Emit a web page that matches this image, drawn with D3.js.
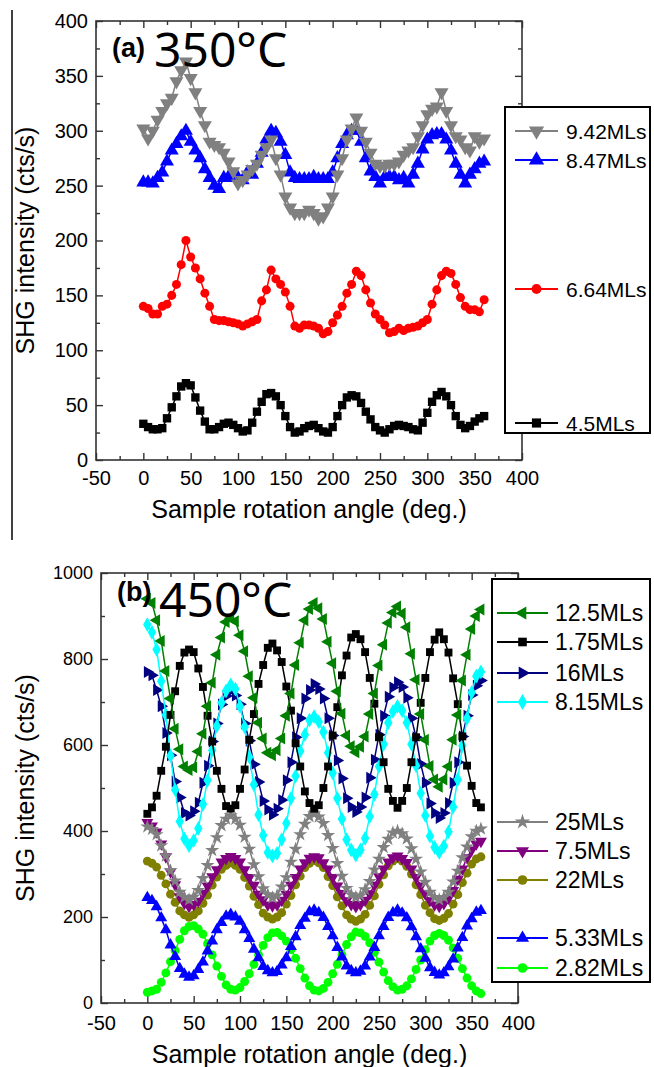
<!DOCTYPE html>
<html lang="en">
<head>
<meta charset="UTF-8">
<title>SHG intensity vs sample rotation angle</title>
<script src="https://d3js.org/d3.v7.min.js"></script>
<style>
  body { margin: 0; background: #fff; }
  svg text { font-family: "Liberation Sans", Arial, sans-serif; fill: #000; }
  .frame { fill: none; stroke: #333; stroke-width: 1.6; }
  .axis path { display: none; }
  .axis line { stroke: #333; stroke-width: 1.4; }
  .axis text { font-size: 20px; font-family: "Liberation Sans", Arial, sans-serif; }
  .line { fill: none; stroke-width: 1.5; }
  .legend-box { fill: #fff; stroke: #000; stroke-width: 2; }
  .title-temp { font-family: "Noto Sans", sans-serif !important; }
</style>
</head>
<body>
<svg id="fig" width="654" height="1067"></svg>
<script>
// sample rotation angle, 5 deg steps
const angles = [0,5,10,15,20,25,30,35,40,45,50,55,60,65,70,75,80,85,90,95,100,105,110,115,120,
  125,130,135,140,145,150,155,160,165,170,175,180,185,190,195,200,205,210,215,220,225,230,235,
  240,245,250,255,260,265,270,275,280,285,290,295,300,305,310,315,320,325,330,335,340,345,350,355,360];

const xTicks = [-50,0,50,100,150,200,250,300,350,400];
const xMinor = [-25,25,75,125,175,225,275,325,375];
const yTicksA = [0,50,100,150,200,250,300,350,400];
const yMinorA = [25,75,125,175,225,275,325,375];
const yTicksB = [0,200,400,600,800,1000];
const yMinorB = [100,300,500,700,900];

// panel (a) 350°C
const a_4_5 = [33,30,28,28,29,38,48,58,67,70,68,57,45,35,28,28,30,33,34,32,29,26,27,34,44,53,60,61,58,50,
  40,30,25,26,29,31,32,29,26,25,30,40,50,57,59,58,52,44,37,30,27,25,28,31,32,31,30,28,27,34,
  43,53,59,62,58,50,40,32,29,31,35,38,40];
const a_6_64 = [140,138,133,133,140,142,150,160,178,200,185,175,165,152,140,128,127,127,126,125,124,122,124,126,128,
  145,155,173,165,160,153,140,122,120,123,123,122,120,115,117,125,132,140,152,160,172,168,155,143,133,
  128,123,116,117,120,118,120,121,122,125,128,142,155,168,172,170,160,148,140,137,137,135,146];
const a_8_47 = [253,253,252,257,262,272,282,288,295,300,290,282,275,265,257,250,247,257,258,257,257,255,262,260,270,
  280,292,300,298,290,278,262,257,256,256,256,258,256,256,256,262,275,288,296,300,300,290,275,263,258,
  252,258,258,258,255,257,252,260,270,283,292,296,297,297,292,282,270,260,252,260,265,270,272];
const a_9_42 = [302,293,300,310,318,325,330,345,355,363,348,335,318,305,290,287,285,280,272,263,252,255,260,265,270,
  278,285,292,275,260,240,230,225,225,225,228,225,220,222,230,240,260,275,292,302,312,300,290,280,270,
  268,268,270,270,272,278,282,285,295,305,315,320,322,335,318,305,295,292,285,282,295,290,293];

// panel (b) 450°C
const b_12_5 = [940,930,890,842,772,708,638,590,550,542,548,585,626,690,745,810,850,886,895,888,855,818,760,710,652,
  615,582,576,588,615,668,720,786,838,890,916,930,918,893,840,790,725,673,622,597,583,596,620,672,720,
  785,833,884,908,922,906,874,812,752,672,612,551,520,503,520,550,612,670,750,810,870,900,915];
const b_1_75 = [440,455,482,540,596,670,725,784,815,822,816,778,735,668,608,540,498,458,452,460,498,543,612,672,742,
  786,826,836,820,793,736,680,604,550,492,465,452,460,500,550,622,688,762,808,850,858,846,816,756,696,
  618,560,498,470,454,470,500,560,618,698,756,816,845,862,846,815,755,695,620,552,505,465,455];
const b_16 = [770,762,728,690,628,576,515,478,442,436,446,466,512,552,608,650,694,714,726,715,695,650,610,555,514,
  470,450,438,452,472,518,560,618,662,708,728,742,730,708,662,622,564,522,476,456,444,456,478,524,566,
  624,668,712,734,746,735,710,662,618,556,512,464,442,430,442,465,512,560,620,668,716,738,750];
const b_8_15 = [880,862,822,748,670,575,496,422,382,366,378,406,462,518,588,644,698,726,740,730,690,642,572,508,438,
  390,350,342,348,380,418,476,528,586,624,658,666,654,630,582,535,476,428,380,356,344,356,383,434,485,
  550,602,652,678,690,680,652,602,552,488,436,388,362,350,365,398,456,520,598,662,722,760,770];
const b_25 = [410,404,392,366,342,308,284,258,246,240,247,262,290,320,355,385,413,428,436,428,414,386,358,322,294,
  266,252,245,250,270,292,328,358,392,416,434,440,433,418,390,360,325,295,267,252,246,250,264,283,310,
  335,362,381,396,400,394,382,359,335,305,281,258,246,240,246,258,282,307,338,363,387,400,405];
const b_7_5 = [420,412,398,370,340,305,275,247,232,224,229,237,255,272,294,310,328,336,341,336,328,310,292,274,253,
  240,228,226,228,239,253,274,292,312,326,337,340,338,326,312,292,272,255,238,229,224,229,239,254,274,
  294,312,328,338,342,336,327,312,292,272,254,238,228,225,231,244,262,288,312,338,356,370,376];
const b_22 = [330,325,316,297,277,253,234,214,205,199,205,214,232,251,274,293,311,320,326,320,311,292,272,248,229,
  209,200,195,200,210,230,250,275,295,315,325,331,326,315,294,273,247,226,205,195,190,195,206,227,249,
  276,298,319,330,336,330,318,300,275,252,227,210,196,192,197,208,230,252,280,302,323,335,340];
const b_5_33 = [245,238,224,198,170,135,108,80,67,60,63,78,95,121,144,170,187,202,206,200,190,170,150,125,105,
  85,75,70,73,88,105,131,154,180,197,212,216,210,199,178,156,129,107,86,75,70,74,86,107,129,
  156,178,199,210,216,209,198,177,154,126,104,82,71,65,70,84,102,128,152,179,196,211,215];
const b_2_82 = [25,28,32,48,70,96,122,148,168,178,180,172,160,138,112,86,62,42,32,30,36,50,68,90,112,
  134,152,163,164,156,144,124,104,80,58,40,30,28,34,48,68,90,112,136,154,165,163,155,140,118,
  95,72,52,38,30,32,40,56,78,100,124,144,157,162,157,146,128,104,80,58,40,28,22];

const svg = d3.select("#fig");

const sym = {
  square:   {type: d3.symbolSquare,   rot: 0},
  circle:   {type: d3.symbolCircle,   rot: 0},
  triUp:    {type: d3.symbolTriangle, rot: 0},
  triDown:  {type: d3.symbolTriangle, rot: 180},
  triLeft:  {type: d3.symbolTriangle, rot: -90},
  triRight: {type: d3.symbolTriangle, rot: 90},
  diamond:  {type: d3.symbolDiamond,  rot: 0},
  star:     {type: d3.symbolStar,     rot: 0}
};

const plain = d => String(d); // keeps the ascii hyphen in "-50"

function drawPanel(p) {
  const x = d3.scaleLinear().domain([-50, 400]).range([p.left, p.right]);
  const y = d3.scaleLinear().domain([0, p.ymax]).range([p.bottom, p.top]);
  const g = svg.append("g");

  // ticks, all pointing inward
  g.append("g").attr("class", "axis").attr("transform", `translate(0,${p.bottom})`)
    .call(d3.axisBottom(x).tickValues(xTicks).tickSize(-7).tickPadding(p.xPad).tickFormat(plain));
  g.append("g").attr("class", "axis").attr("transform", `translate(0,${p.bottom})`)
    .call(d3.axisBottom(x).tickValues(xMinor).tickSize(-4).tickFormat(""));
  g.append("g").attr("class", "axis").attr("transform", `translate(0,${p.top})`)
    .call(d3.axisTop(x).tickValues(xTicks).tickSize(-7).tickFormat(""));
  g.append("g").attr("class", "axis").attr("transform", `translate(0,${p.top})`)
    .call(d3.axisTop(x).tickValues(xMinor).tickSize(-4).tickFormat(""));
  g.append("g").attr("class", "axis").attr("transform", `translate(${p.left},0)`)
    .call(d3.axisLeft(y).tickValues(p.yTicks).tickSize(-7).tickPadding(8).tickFormat(plain))
    .selectAll("text").style("font-size", p.yFont + "px");
  g.append("g").attr("class", "axis").attr("transform", `translate(${p.left},0)`)
    .call(d3.axisLeft(y).tickValues(p.yMinor).tickSize(-4).tickFormat(""));
  g.append("g").attr("class", "axis").attr("transform", `translate(${p.right},0)`)
    .call(d3.axisRight(y).tickValues(p.yTicks).tickSize(-7).tickFormat(""));
  g.append("g").attr("class", "axis").attr("transform", `translate(${p.right},0)`)
    .call(d3.axisRight(y).tickValues(p.yMinor).tickSize(-4).tickFormat(""));

  g.append("rect").attr("class", "frame")
    .attr("x", p.left).attr("y", p.top)
    .attr("width", p.right - p.left).attr("height", p.bottom - p.top);

  // axis titles
  g.append("text").attr("x", (p.left + p.right) / 2).attr("y", p.xTitleY)
    .attr("text-anchor", "middle").style("font-size", "25px")
    .text("Sample rotation angle (deg.)");
  g.append("text")
    .attr("transform", `translate(34,${(p.top + p.bottom) / 2}) rotate(-90)`)
    .attr("text-anchor", "middle").style("font-size", "25px")
    .text("SHG intensity (cts/s)");

  // data
  const line = d3.line().x((d, i) => x(angles[i])).y(d => y(d));
  p.series.forEach(s => {
    const sg = g.append("g");
    sg.append("path").datum(s.values).attr("class", "line")
      .attr("stroke", s.color).attr("d", line);
    sg.selectAll("path.pt").data(s.values).join("path").attr("class", "pt")
      .attr("d", d3.symbol().type(sym[s.marker].type).size(s.size || p.msize))
      .attr("fill", s.color)
      .attr("transform", (d, i) => `translate(${x(angles[i])},${y(d)}) rotate(${sym[s.marker].rot})`);
  });

  // panel label
  g.append("text").attr("x", p.left + 16).attr("y", p.labelY)
    .style("font-size", "27px").style("font-weight", "bold").text(p.tag);
  g.append("text").attr("class", "title-temp").attr("x", p.left + 58).attr("y", p.tempY)
    .style("font-size", "48px").text(p.temp);

  // legend
  const lg = svg.append("g");
  lg.append("rect").attr("class", "legend-box")
    .attr("x", p.legend.x0).attr("y", p.legend.y0)
    .attr("width", p.legend.x1 - p.legend.x0).attr("height", p.legend.y1 - p.legend.y0);
  p.series.forEach(s => {
    const e = lg.append("g").attr("transform", `translate(0,${s.ly})`);
    e.append("line").attr("x1", p.legend.l0).attr("x2", p.legend.l1)
      .attr("stroke", s.color).attr("stroke-width", 1.8);
    e.append("path")
      .attr("d", d3.symbol().type(sym[s.marker].type).size((s.size || p.msize) * 1.2))
      .attr("fill", s.color)
      .attr("transform", `translate(${(p.legend.l0 + p.legend.l1) / 2},0) rotate(${sym[s.marker].rot})`);
    e.append("text").attr("x", p.legend.tx).attr("y", p.legend.fs * 0.36)
      .style("font-size", p.legend.fs + "px").text(s.name);
  });
}

// left border line of the first figure
svg.append("line").attr("x1", 12).attr("x2", 12).attr("y1", 10).attr("y2", 540)
  .attr("stroke", "#000").attr("stroke-width", 1.5);

drawPanel({
  left: 96, right: 522, top: 21, bottom: 460, ymax: 400,
  yTicks: yTicksA, yMinor: yMinorA, yFont: 20, xPad: 11, xTitleY: 518, msize: 85,
  tag: "(a)", temp: "350°C", labelY: 57, tempY: 67,
  legend: {x0: 505, x1: 650, y0: 107, y1: 433, l0: 515, l1: 558, tx: 566, fs: 21},
  series: [
    {name: "4.5MLs",  values: a_4_5,  color: "#000000", marker: "square",  ly: 423, size: 70},
    {name: "6.64MLs", values: a_6_64, color: "#ff0000", marker: "circle",  ly: 289, size: 64},
    {name: "8.47MLs", values: a_8_47, color: "#0000ff", marker: "triUp",   ly: 160},
    {name: "9.42MLs", values: a_9_42, color: "#808080", marker: "triDown", ly: 131}
  ]
});

drawPanel({
  left: 101, right: 518, top: 573, bottom: 1003, ymax: 1000,
  yTicks: yTicksB, yMinor: yMinorB, yFont: 18, xPad: 13, xTitleY: 1063, msize: 62,
  tag: "(b)", temp: "450°C", labelY: 601, tempY: 617,
  legend: {x0: 492, x1: 650, y0: 579, y1: 982, l0: 497, l1: 548, tx: 555, fs: 23},
  series: [
    {name: "2.82MLs", values: b_2_82,  color: "#00ff00", marker: "circle",   ly: 968},
    {name: "5.33MLs", values: b_5_33,  color: "#0000ff", marker: "triUp",    ly: 938},
    {name: "22MLs",   values: b_22,    color: "#808000", marker: "circle",   ly: 880},
    {name: "7.5MLs",  values: b_7_5,   color: "#800080", marker: "triDown",  ly: 851},
    {name: "25MLs",   values: b_25,    color: "#808080", marker: "star",     ly: 822},
    {name: "16MLs",   values: b_16,    color: "#000080", marker: "triRight", ly: 673},
    {name: "8.15MLs", values: b_8_15,  color: "#00ffff", marker: "diamond",  ly: 702},
    {name: "1.75MLs", values: b_1_75,  color: "#000000", marker: "square",   ly: 642},
    {name: "12.5MLs", values: b_12_5,  color: "#008000", marker: "triLeft",  ly: 613}
  ]
});
</script>
</body>
</html>
